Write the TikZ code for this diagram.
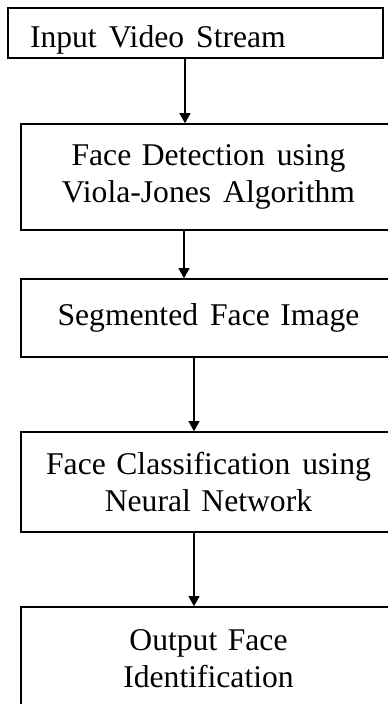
\documentclass[tikz,border=0pt]{standalone}
\usepackage{fontspec}
\setmainfont{Liberation Serif}
\usetikzlibrary{arrows.meta}
\newcommand*{\wgap}{\hspace{0.38em}}

\begin{document}
\begin{tikzpicture}[
	box/.style={draw, line width=1.1pt, minimum width=9.375cm, text width=8.5cm, align=center, inner sep=0pt, font=\fontsize{22.5}{26.3}\selectfont},
	arr/.style={-{Triangle[length=0.25cm,width=0.27cm]}, line width=1.1pt}]
			\useasboundingbox (0,0) rectangle (9.7,17.6);
			\clip (0,0) rectangle (9.7,17.6);
			\node[box, align=left, inner xsep=0.55cm, inner ysep=0.25cm, text width=8.275cm, text height=0.75cm, text depth=0pt, minimum height=1.25cm] (input) at(4.8875,16.775) {Input\wgap Video\wgap Stream};
			\node[box, minimum height=2.65cm] (detect) at(5.2125,13.175) {Face Detection\wgap using\\Viola-Jones\wgap Algorithm};
			\node[box, minimum height=1.95cm] (segment) at(5.2125,9.65) {Segmented\wgap Face Image};
			\node[box, minimum height=2.5cm] (classify) at(5.2125,5.55) {Face Classification\wgap using\\Neural Network};
			\node[box, minimum height=2.575cm] (output) at(5.2125,1.1375) {Output Face\\Identification};
			\draw[arr] (input.south -| 4.625,0) -- (detect.north -| 4.625,0);
			\draw[arr] (detect.south -| 4.6,0) -- (segment.north -| 4.6,0);
			\draw[arr] (segment.south -| 4.85,0) -- (classify.north -| 4.85,0);
			\draw[arr] (classify.south -| 4.85,0) -- (output.north -| 4.85,0);
\end{tikzpicture}
\end{document}
